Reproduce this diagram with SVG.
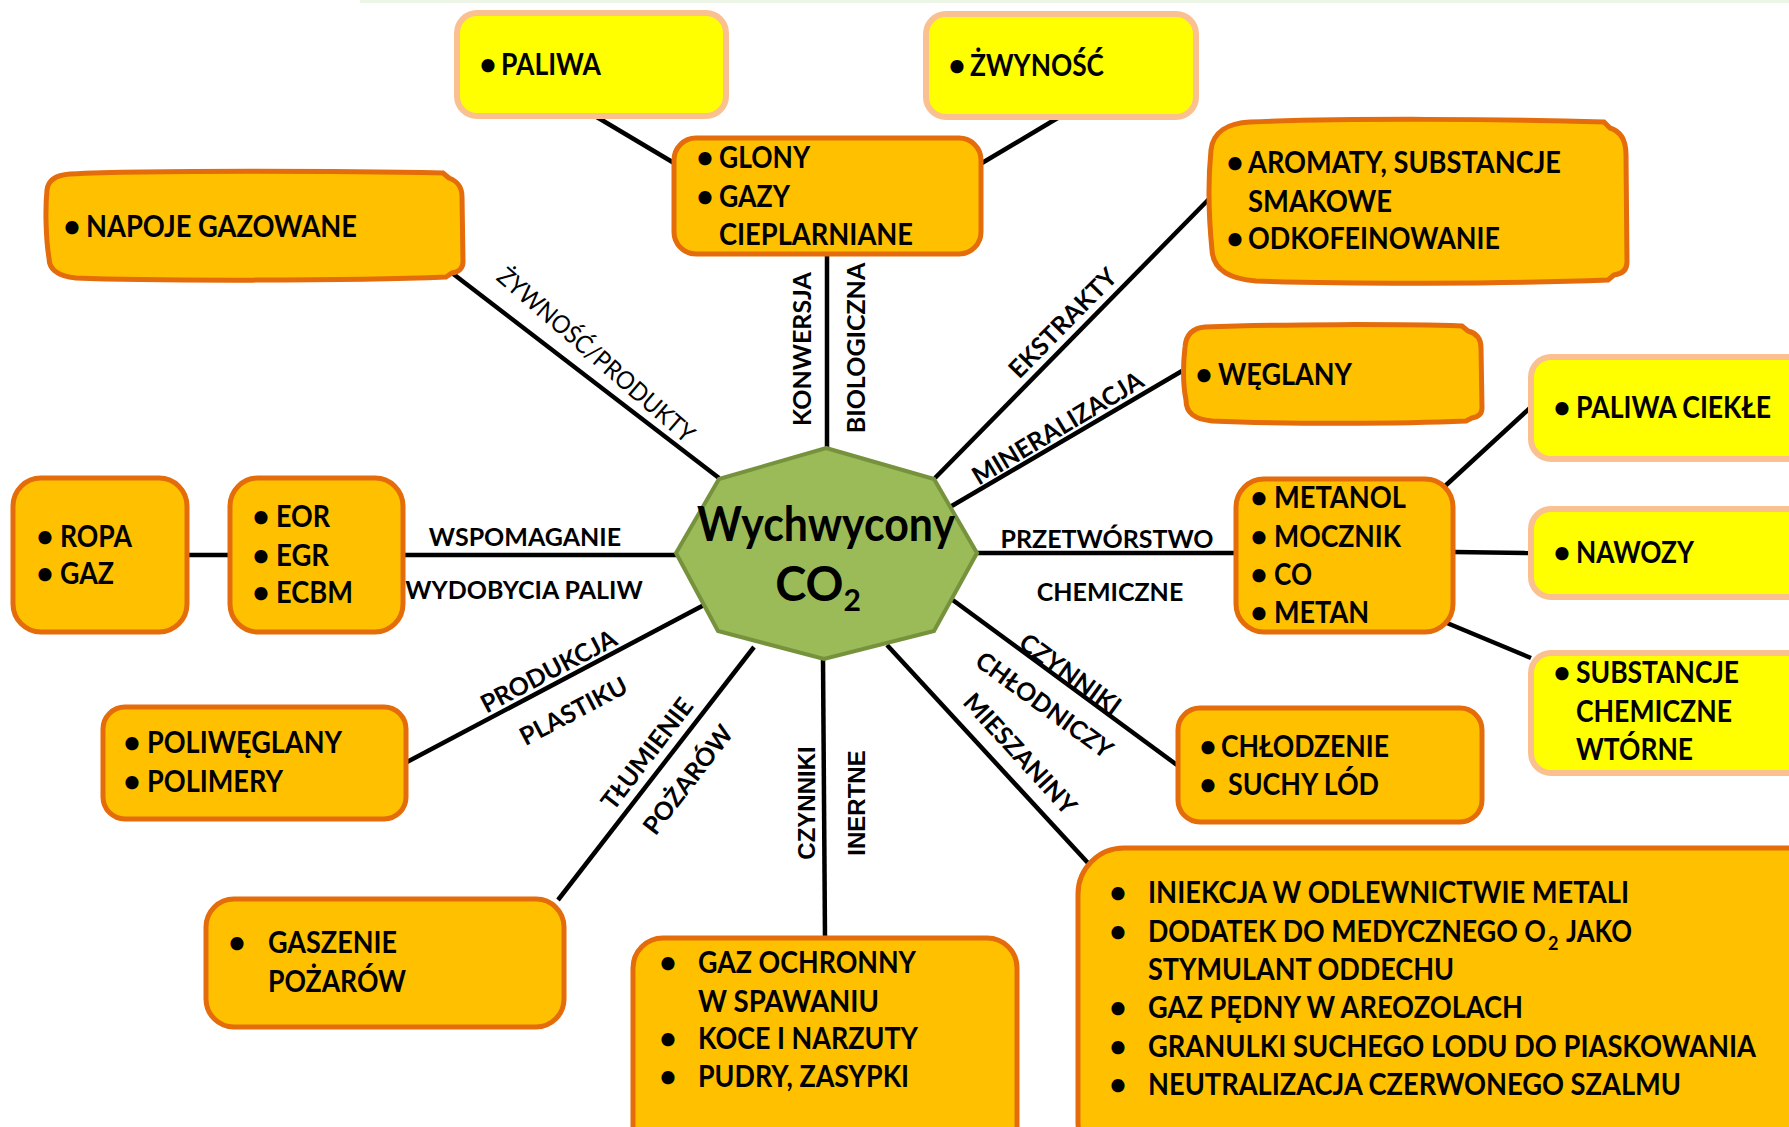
<svg xmlns="http://www.w3.org/2000/svg" width="1789" height="1127" viewBox="0 0 1789 1127">
  <style>
    .orange { fill: #FFC000; stroke: #E46C0A; stroke-width: 5; }
    .yellow { fill: #FFFF00; stroke: #FAC090; stroke-width: 6; }
    .hub { fill: #9BBB59; stroke: #76923C; stroke-width: 4; }
    .link { stroke: #000; stroke-width: 4.5; fill: none; stroke-linecap: butt; }
    .t { font-family: "Lato", "Liberation Sans", sans-serif; font-weight: bold; font-size: 30px; fill: #000; }
    .sub { font-size: 18px; }
    .b { text-anchor: middle; }
    .lbl { font-family: "Lato", "Liberation Sans", sans-serif; font-weight: bold; font-size: 25px; fill: #000; text-anchor: middle; }
    .lblr { font-family: "Lato", "Liberation Sans", sans-serif; font-weight: normal; font-size: 25px; fill: #000; text-anchor: middle; }
    .lbl2 { font-family: "Liberation Sans", "Arial", sans-serif; font-weight: bold; font-size: 24px; fill: #000; text-anchor: middle; }
    .hubt { font-family: "Lato", "Liberation Sans", sans-serif; font-weight: bold; font-size: 47px; fill: #000; text-anchor: middle; }
  </style>

  <rect width="1789" height="1127" fill="#FFFFFF"/>
  <rect x="360" y="0" width="1429" height="3" fill="#EDF5E6"/>

  <!-- connectors and their labels -->
  <g id="connectors">
    <line class="link" x1="590" y1="113" x2="674" y2="163"/>
    <line class="link" x1="1061" y1="116" x2="982" y2="163"/>
    <line class="link" x1="827" y1="255" x2="827" y2="448"/>
    <line class="link" x1="452" y1="273" x2="719" y2="478"/>
    <line class="link" x1="1210" y1="198" x2="935" y2="478"/>
    <line class="link" x1="1182" y1="371" x2="950" y2="507"/>
    <line class="link" x1="977" y1="553" x2="1235" y2="553"/>
    <line class="link" x1="1444" y1="487" x2="1531" y2="407"/>
    <line class="link" x1="1454" y1="552" x2="1530" y2="553"/>
    <line class="link" x1="1447" y1="623" x2="1531" y2="658"/>
    <line class="link" x1="188" y1="555" x2="229" y2="555"/>
    <line class="link" x1="404" y1="555" x2="676" y2="555"/>
    <line class="link" x1="407" y1="762" x2="704" y2="605"/>
    <line class="link" x1="558" y1="900" x2="754" y2="647"/>
    <line class="link" x1="823" y1="659" x2="825" y2="937"/>
    <line class="link" x1="887" y1="645" x2="1088" y2="863"/>
    <line class="link" x1="950" y1="598" x2="1177" y2="765"/>

    <text class="lblr" transform="rotate(41 597 354)" x="597" y="354" dominant-baseline="central" textLength="252" lengthAdjust="spacingAndGlyphs">ŻYWNOŚĆ/PRODUKTY</text>
    <text class="lbl" transform="rotate(-90 801 349)" x="801" y="349" dominant-baseline="central">KONWERSJA</text>
    <text class="lbl" transform="rotate(-90 855 348)" x="855" y="348" dominant-baseline="central">BIOLOGICZNA</text>
    <text class="lbl" transform="rotate(-45.5 1062 322)" x="1062" y="322" dominant-baseline="central">EKSTRAKTY</text>
    <text class="lbl" transform="rotate(-31 1057 427)" x="1057" y="427" dominant-baseline="central">MINERALIZACJA</text>
    <text class="lbl" x="1107" y="548">PRZETWÓRSTWO</text>
    <text class="lbl" x="1110" y="601">CHEMICZNE</text>
    <text class="lbl" x="525" y="546">WSPOMAGANIE</text>
    <text class="lbl" x="524" y="599">WYDOBYCIA PALIW</text>
    <text class="lbl" transform="rotate(36 1071 673)" x="1071" y="673" dominant-baseline="central">CZYNNIKI</text>
    <text class="lbl" transform="rotate(36 1045 704)" x="1045" y="704" dominant-baseline="central">CHŁODNICZY</text>
    <text class="lbl" transform="rotate(47.6 1021 753)" x="1021" y="753" dominant-baseline="central">MIESZANINY</text>
    <text class="lbl2" transform="rotate(-90 806 803)" x="806" y="803" dominant-baseline="central">CZYNNIKI</text>
    <text class="lbl2" transform="rotate(-90 856 803)" x="856" y="803" dominant-baseline="central">INERTNE</text>
    <text class="lbl" transform="rotate(-27.7 548 670)" x="548" y="670" dominant-baseline="central">PRODUKCJA</text>
    <text class="lbl" transform="rotate(-27.7 573 710)" x="573" y="710" dominant-baseline="central">PLASTIKU</text>
    <text class="lbl" transform="rotate(-52.5 646 753)" x="646" y="753" dominant-baseline="central">TŁUMIENIE</text>
    <text class="lbl" transform="rotate(-52.5 687 779)" x="687" y="779" dominant-baseline="central">POŻARÓW</text>
  </g>

  <!-- central node -->
  <g id="hub">
    <polygon class="hub" points="826,448 934,479 977,553 934,631 824,659 718,631 676,553 719,479"/>
    <text class="hubt" x="826" y="541" textLength="258" lengthAdjust="spacingAndGlyphs">Wychwycony</text>
    <text class="hubt" x="818" y="601">CO<tspan font-size="30" dy="10">2</tspan></text>
  </g>

  <g id="paliwa">
    <rect class="yellow" x="457" y="13" width="269" height="103" rx="20"/>
    <text class="t b" x="488" y="75">•</text>
    <text class="t" x="501" y="75" textLength="100" lengthAdjust="spacingAndGlyphs">PALIWA</text>
  </g>

  <g id="zywnosc">
    <rect class="yellow" x="926" y="14" width="270" height="103" rx="20"/>
    <text class="t b" x="957" y="76">•</text>
    <text class="t" x="970" y="76" textLength="134" lengthAdjust="spacingAndGlyphs">ŻWYNOŚĆ</text>
  </g>

  <g id="glony">
    <rect class="orange" x="674" y="138" width="307" height="116" rx="22"/>
    <text class="t b" x="705" y="168">•</text>
    <text class="t" x="719" y="168" textLength="91" lengthAdjust="spacingAndGlyphs">GLONY</text>
    <text class="t b" x="705" y="207">•</text>
    <text class="t" x="719" y="207" textLength="71" lengthAdjust="spacingAndGlyphs">GAZY</text>
    <text class="t" x="719" y="245" textLength="194" lengthAdjust="spacingAndGlyphs">CIEPLARNIANE</text>
  </g>

  <g id="napoje">
    <path class="orange" d="M70,174 C150,170 350,171 443,173 L449,178 C457,181 462,186 462,197 L463,262 C463,268 459,272 452,273 L446,277 C350,281 150,281 76,278 C56,276 49,268 49,258 C46,240 45,210 47,190 C48,180 56,175 70,174 Z"/>
    <text class="t b" x="72" y="237">•</text>
    <text class="t" x="86" y="237" textLength="271" lengthAdjust="spacingAndGlyphs">NAPOJE GAZOWANE</text>
  </g>

  <g id="ekstrakty">
    <path class="orange" d="M1250,122 C1350,118 1500,119 1604,122 L1610,128 C1620,131 1626,140 1626,155 L1627,262 C1627,270 1622,274 1614,275 L1608,280 C1500,284 1350,284 1256,281 C1230,279 1213,270 1212,250 C1209,220 1208,180 1211,150 C1213,132 1228,123 1250,122 Z"/>
    <text class="t b" x="1235" y="173">•</text>
    <text class="t" x="1248" y="173" textLength="313" lengthAdjust="spacingAndGlyphs">AROMATY, SUBSTANCJE</text>
    <text class="t" x="1248" y="212" textLength="144" lengthAdjust="spacingAndGlyphs">SMAKOWE</text>
    <text class="t b" x="1235" y="249">•</text>
    <text class="t" x="1248" y="249" textLength="252" lengthAdjust="spacingAndGlyphs">ODKOFEINOWANIE</text>
  </g>

  <g id="weglany">
    <path class="orange" d="M1205,327 C1280,324 1400,324 1462,326 L1468,331 C1476,333 1481,338 1481,348 L1482,408 C1482,414 1478,417 1472,418 L1466,421 C1400,424 1280,424 1212,421 C1194,419 1186,413 1186,400 C1183,385 1183,365 1185,347 C1186,334 1193,328 1205,327 Z"/>
    <text class="t b" x="1204" y="385">•</text>
    <text class="t" x="1218" y="385" textLength="134" lengthAdjust="spacingAndGlyphs">WĘGLANY</text>
  </g>

  <g id="metanol">
    <rect class="orange" x="1236" y="479" width="217" height="153" rx="28"/>
    <text class="t b" x="1259" y="508">•</text>
    <text class="t" x="1274" y="508" textLength="132" lengthAdjust="spacingAndGlyphs">METANOL</text>
    <text class="t b" x="1259" y="547">•</text>
    <text class="t" x="1274" y="547" textLength="127" lengthAdjust="spacingAndGlyphs">MOCZNIK</text>
    <text class="t b" x="1259" y="585">•</text>
    <text class="t" x="1274" y="585" textLength="38" lengthAdjust="spacingAndGlyphs">CO</text>
    <text class="t b" x="1259" y="623">•</text>
    <text class="t" x="1274" y="623" textLength="95" lengthAdjust="spacingAndGlyphs">METAN</text>
  </g>

  <g id="paliwa-ciekle">
    <rect class="yellow" x="1531" y="357" width="290" height="102" rx="20"/>
    <text class="t b" x="1562" y="418">•</text>
    <text class="t" x="1576" y="418" textLength="195" lengthAdjust="spacingAndGlyphs">PALIWA CIEKŁE</text>
  </g>

  <g id="nawozy">
    <rect class="yellow" x="1531" y="509" width="290" height="88" rx="20"/>
    <text class="t b" x="1562" y="563">•</text>
    <text class="t" x="1576" y="563" textLength="118" lengthAdjust="spacingAndGlyphs">NAWOZY</text>
  </g>

  <g id="substancje">
    <rect class="yellow" x="1531" y="653" width="290" height="120" rx="20"/>
    <text class="t b" x="1562" y="683">•</text>
    <text class="t" x="1576" y="683" textLength="163" lengthAdjust="spacingAndGlyphs">SUBSTANCJE</text>
    <text class="t" x="1576" y="722" textLength="156" lengthAdjust="spacingAndGlyphs">CHEMICZNE</text>
    <text class="t" x="1576" y="760" textLength="117" lengthAdjust="spacingAndGlyphs">WTÓRNE</text>
  </g>

  <g id="ropa">
    <rect class="orange" x="13" y="478" width="174" height="154" rx="28"/>
    <text class="t b" x="45" y="547">•</text>
    <text class="t" x="60" y="547" textLength="72" lengthAdjust="spacingAndGlyphs">ROPA</text>
    <text class="t b" x="45" y="584">•</text>
    <text class="t" x="60" y="584" textLength="54" lengthAdjust="spacingAndGlyphs">GAZ</text>
  </g>

  <g id="eor">
    <rect class="orange" x="230" y="478" width="173" height="154" rx="28"/>
    <text class="t b" x="261" y="527">•</text>
    <text class="t" x="276" y="527" textLength="54" lengthAdjust="spacingAndGlyphs">EOR</text>
    <text class="t b" x="261" y="566">•</text>
    <text class="t" x="276" y="566" textLength="53" lengthAdjust="spacingAndGlyphs">EGR</text>
    <text class="t b" x="261" y="603">•</text>
    <text class="t" x="276" y="603" textLength="77" lengthAdjust="spacingAndGlyphs">ECBM</text>
  </g>

  <g id="poliweglany">
    <rect class="orange" x="103" y="707" width="303" height="112" rx="22"/>
    <text class="t b" x="132" y="753">•</text>
    <text class="t" x="147" y="753" textLength="195" lengthAdjust="spacingAndGlyphs">POLIWĘGLANY</text>
    <text class="t b" x="132" y="792">•</text>
    <text class="t" x="147" y="792" textLength="136" lengthAdjust="spacingAndGlyphs">POLIMERY</text>
  </g>

  <g id="gaszenie">
    <rect class="orange" x="206" y="899" width="358" height="128" rx="28"/>
    <text class="t b" x="237" y="953">•</text>
    <text class="t" x="268" y="953" textLength="129" lengthAdjust="spacingAndGlyphs">GASZENIE</text>
    <text class="t" x="268" y="992" textLength="138" lengthAdjust="spacingAndGlyphs">POŻARÓW</text>
  </g>

  <g id="gaz-ochronny">
    <rect class="orange" x="633" y="938" width="384" height="220" rx="30"/>
    <text class="t b" x="668" y="973">•</text>
    <text class="t" x="698" y="973" textLength="218" lengthAdjust="spacingAndGlyphs">GAZ OCHRONNY</text>
    <text class="t" x="698" y="1012" textLength="181" lengthAdjust="spacingAndGlyphs">W SPAWANIU</text>
    <text class="t b" x="668" y="1049">•</text>
    <text class="t" x="698" y="1049" textLength="220" lengthAdjust="spacingAndGlyphs">KOCE I NARZUTY</text>
    <text class="t b" x="668" y="1087">•</text>
    <text class="t" x="698" y="1087" textLength="211" lengthAdjust="spacingAndGlyphs">PUDRY, ZASYPKI</text>
  </g>

  <g id="chlodzenie">
    <rect class="orange" x="1178" y="708" width="304" height="114" rx="22"/>
    <text class="t b" x="1208" y="757">•</text>
    <text class="t" x="1221" y="757" textLength="168" lengthAdjust="spacingAndGlyphs">CHŁODZENIE</text>
    <text class="t b" x="1208" y="795">•</text>
    <text class="t" x="1228" y="795" textLength="151" lengthAdjust="spacingAndGlyphs">SUCHY LÓD</text>
  </g>

  <g id="mieszaniny">
    <rect class="orange" x="1078" y="848" width="760" height="320" rx="46"/>
    <text class="t b" x="1118" y="903">•</text>
    <text class="t" x="1148" y="903" textLength="481" lengthAdjust="spacingAndGlyphs">INIEKCJA W ODLEWNICTWIE METALI</text>
    <text class="t b" x="1118" y="942">•</text>
    <text class="t" x="1148" y="942" textLength="398" lengthAdjust="spacingAndGlyphs">DODATEK DO MEDYCZNEGO O</text>
    <text class="t sub" x="1548" y="950">2</text>
    <text class="t" x="1566" y="942" textLength="66" lengthAdjust="spacingAndGlyphs">JAKO</text>
    <text class="t" x="1148" y="980" textLength="306" lengthAdjust="spacingAndGlyphs">STYMULANT ODDECHU</text>
    <text class="t b" x="1118" y="1018">•</text>
    <text class="t" x="1148" y="1018" textLength="375" lengthAdjust="spacingAndGlyphs">GAZ PĘDNY W AREOZOLACH</text>
    <text class="t b" x="1118" y="1057">•</text>
    <text class="t" x="1148" y="1057" textLength="608" lengthAdjust="spacingAndGlyphs">GRANULKI SUCHEGO LODU DO PIASKOWANIA</text>
    <text class="t b" x="1118" y="1095">•</text>
    <text class="t" x="1148" y="1095" textLength="533" lengthAdjust="spacingAndGlyphs">NEUTRALIZACJA CZERWONEGO SZALMU</text>
  </g>
</svg>
